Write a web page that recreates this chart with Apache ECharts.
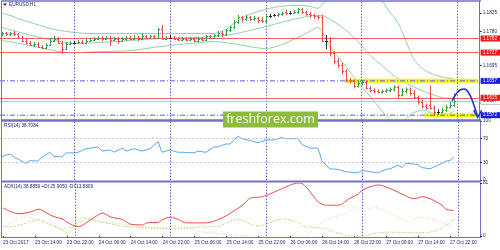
<!DOCTYPE html>
<html><head><meta charset="utf-8">
<script src="https://cdn.jsdelivr.net/npm/echarts@6/dist/echarts.min.js"></script>
<style>html,body{margin:0;padding:0;background:#fff}#c{width:500px;height:250px}</style>
</head><body><div id="c"></div>
<script>
// ---------- DATA (EURUSD H1, 23-27 Oct 2017) ----------
const symbolTitle = 'EURUSD,H1';
const rsiTitle = 'RSI(14) 38.7084';
const adxTitle = 'ADX(14) 38.8859 +DI 25.9050 -DI 13.8309';

const opens = [1.17720,1.17745,1.17720,1.17745,1.17720,1.17645,1.17570,1.17520,1.17470,1.17495,
1.17420,1.17395,1.17470,1.17570,1.17620,1.17520,1.17370,1.17495,1.17520,1.17520,
1.17545,1.17520,1.17570,1.17595,1.17620,1.17645,1.17620,1.17645,1.17595,1.17620,
1.17570,1.17620,1.17645,1.17620,1.17645,1.17620,1.17670,1.17645,1.17670,1.17645,
1.17845,1.17620,1.17645,1.17645,1.17620,1.17595,1.17620,1.17595,1.17620,1.17570,
1.17620,1.17595,1.17670,1.17645,1.17695,1.17745,1.17720,1.17820,1.17895,1.18020,
1.18145,1.18095,1.18145,1.18095,1.18120,1.18070,1.18045,1.18170,1.18195,1.18195,
1.18220,1.18270,1.18245,1.18245,1.18270,1.18345,1.18270,1.18220,1.18195,1.18170,
1.18145,1.17570,1.17570,1.17270,1.17070,1.16970,1.16820,1.16595,1.16570,1.16445,
1.16520,1.16545,1.16395,1.16345,1.16320,1.16295,1.16320,1.16345,1.16370,1.16420,
1.16220,1.16320,1.16370,1.16270,1.16170,1.16045,1.15945,1.15970,1.15895,1.15795,
1.15795,1.15845,1.15920,1.15970];
const closes = [1.17745,1.17720,1.17745,1.17720,1.17645,1.17570,1.17520,1.17470,1.17495,1.17420,
1.17395,1.17470,1.17570,1.17620,1.17520,1.17370,1.17495,1.17520,1.17520,1.17545,
1.17520,1.17570,1.17595,1.17620,1.17645,1.17620,1.17645,1.17595,1.17620,1.17570,
1.17620,1.17645,1.17620,1.17645,1.17620,1.17670,1.17645,1.17670,1.17645,1.17845,
1.17620,1.17645,1.17645,1.17620,1.17595,1.17620,1.17595,1.17620,1.17570,1.17620,
1.17595,1.17670,1.17645,1.17695,1.17745,1.17720,1.17820,1.17895,1.18020,1.18145,
1.18095,1.18145,1.18095,1.18120,1.18070,1.18045,1.18170,1.18170,1.18195,1.18220,
1.18245,1.18245,1.18245,1.18270,1.18345,1.18270,1.18220,1.18195,1.18170,1.18145,
1.17570,1.17570,1.17270,1.17070,1.16970,1.16820,1.16595,1.16570,1.16445,1.16520,
1.16545,1.16395,1.16345,1.16320,1.16295,1.16320,1.16345,1.16370,1.16420,1.16220,
1.16320,1.16370,1.16270,1.16170,1.16045,1.15945,1.15895,1.15895,1.15795,1.15795,
1.15845,1.15920,1.15970,1.16070];
const lows = [1.17695,1.17695,1.17695,1.17695,1.17620,1.17545,1.17495,1.17445,1.17420,1.17395,
1.17370,1.17370,1.17445,1.17545,1.17495,1.17245,1.17345,1.17470,1.17495,1.17495,
1.17495,1.17495,1.17545,1.17570,1.17595,1.17570,1.17595,1.17445,1.17570,1.17495,
1.17545,1.17570,1.17595,1.17595,1.17570,1.17595,1.17620,1.17620,1.17620,1.17620,
1.17620,1.17595,1.17620,1.17595,1.17570,1.17570,1.17570,1.17570,1.17545,1.17545,
1.17570,1.17570,1.17620,1.17620,1.17670,1.17670,1.17695,1.17795,1.17870,1.17995,
1.18045,1.18070,1.18070,1.18070,1.18020,1.18020,1.18020,1.18145,1.18170,1.18170,
1.18195,1.18220,1.18220,1.18245,1.18245,1.18245,1.18195,1.18145,1.18120,1.18095,
1.17545,1.17370,1.17195,1.16995,1.16895,1.16745,1.16545,1.16520,1.16395,1.16420,
1.16470,1.16370,1.16295,1.16270,1.16270,1.16270,1.16295,1.16295,1.16320,1.16145,
1.16195,1.16270,1.16220,1.16145,1.15995,1.15895,1.15870,1.15870,1.15720,1.15745,
1.15770,1.15820,1.15895,1.15945];
const highs = [1.17770,1.17770,1.17770,1.17795,1.17745,1.17670,1.17595,1.17545,1.17520,1.17520,
1.17445,1.17495,1.17620,1.17670,1.17645,1.17545,1.17520,1.17545,1.17545,1.17570,
1.17570,1.17595,1.17620,1.17645,1.17670,1.17670,1.17670,1.17670,1.17645,1.17645,
1.17645,1.17670,1.17670,1.17695,1.17670,1.17745,1.17695,1.17695,1.17695,1.17870,
1.17945,1.17670,1.17695,1.17670,1.17645,1.17645,1.17645,1.17645,1.17645,1.17645,
1.17645,1.17695,1.17695,1.17720,1.17795,1.17795,1.17845,1.17920,1.18070,1.18195,
1.18170,1.18195,1.18170,1.18170,1.18145,1.18145,1.18195,1.18220,1.18220,1.18245,
1.18270,1.18320,1.18295,1.18320,1.18370,1.18370,1.18295,1.18270,1.18220,1.18195,
1.18195,1.17695,1.17645,1.17295,1.17120,1.16995,1.16845,1.16620,1.16595,1.16570,
1.16570,1.16570,1.16420,1.16370,1.16345,1.16345,1.16370,1.16395,1.16445,1.16445,
1.16370,1.16395,1.16395,1.16320,1.16195,1.16095,1.15995,1.16445,1.15945,1.15845,
1.15895,1.15970,1.16045,1.16245];

// Bollinger bands: [bar index, price]
const bbUpper = [[0,1.18245],[2,1.18195],[4.5,1.18095],[7,1.1802],[9.5,1.17945],[12,1.1787],[14.5,1.1782],[18,1.1777],[22,1.17745],[30,1.17745],[40,1.17745],[50,1.17745],[53,1.17745],[56,1.17845],[58,1.17995],[60,1.1812],[62,1.1822],[66,1.18345],[70,1.1842],[74,1.18445],[77,1.1842],[79,1.1837],[80,1.18445],[81,1.1857],[82,1.18695],[84,1.18945],[88,1.1912],[92,1.18945],[94,1.18695],[95,1.1857],[97,1.1827],[99,1.1802],[101,1.1757],[103,1.1712],[105,1.16895],[107,1.1677],[110,1.1667],[113,1.1662]];
const bbMiddle = [[0,1.17895],[4.5,1.1777],[9.5,1.17645],[14.5,1.17545],[18,1.17495],[24.5,1.1752],[32,1.1757],[39.5,1.1762],[49.5,1.17645],[53,1.1767],[57.5,1.1772],[62,1.1782],[66,1.1792],[70,1.1802],[74,1.1812],[79,1.18195],[80,1.18195],[82,1.18095],[84.5,1.17945],[87,1.17745],[89.5,1.17495],[92.75,1.17145],[95.75,1.16895],[98.75,1.16645],[102,1.1647],[105.25,1.1632],[108,1.1622],[111,1.16145],[113,1.16145]];
const bbLower = [[0,1.1757],[4.5,1.17495],[9.5,1.17395],[14.5,1.17295],[18,1.1727],[24.5,1.17295],[32,1.1732],[39.5,1.1742],[49.5,1.1752],[53,1.17545],[57.5,1.17495],[62,1.1742],[66,1.1737],[70,1.1747],[74,1.17645],[77,1.17795],[79,1.17895],[80,1.1782],[81,1.1762],[82,1.1742],[84.5,1.1712],[86.25,1.16895],[88.25,1.16645],[90.25,1.16395],[92.5,1.16145],[94.5,1.15895],[97,1.1562],[99.5,1.15545],[102.75,1.1577],[105.25,1.15845],[107.75,1.1577],[111.25,1.15745],[113,1.1582]];

// RSI(14): [bar index, value]
const rsiPoints = [[0,40],[2,44],[3,39],[6,28],[7,33],[9,32],[10,39],[12,47],[13,40],[15,39],[16,46],[18,46],[19,47],[21,53],[24,56],[25,49],[27,51],[28,47],[30,54],[31,49],[33,53],[35,49],[37,53],[39,65],[40,47],[42,51],[44,47],[45,47],[48,46],[49,49],[51,47],[53,56],[54,56],[56,61],[57,61],[59,74],[60,70],[62,67],[64,63],[66,68],[68,68],[70,72],[71,70],[74,70],[75,60],[77,54],[79,54],[80,32],[82,19],[84,18],[86,14],[89,12],[90,16],[92,14],[94,12],[96,18],[97,19],[99,25],[100,21],[101,28],[102,28],[104,26],[105,21],[107,19],[109,25],[110,28],[111,32],[112,33],[113,38.7]];
// ADX(14), +DI, -DI: [bar index, value]
const adxPoints = [[0,43],[2,37],[4,34],[7,37],[9,41],[11,35],[13,29],[15,26],[16,21],[19,14],[21,21],[23,29],[25,35],[27,29],[30,25],[32,18],[35,17],[36,20],[39,21],[40,25],[42,29],[44,25],[46,20],[50,20],[52,21],[55,28],[57,35],[60,47],[62,58],[65,60],[69,70],[72,78],[74,81],[75,80],[77,67],[79,52],[81,47],[84,47],[87,58],[89,64],[90,70],[94,78],[96,75],[99,67],[101,61],[103,57],[105,60],[107,57],[110,47],[111,41],[113,38.9]];
const plusDiPoints = [[0,15],[2,14],[6,20],[9,25],[11,20],[15,9],[16,5],[20,28],[25,21],[30,15],[37,12],[42,11],[50,14],[54,15],[59,26],[62,18],[64,15],[66,18],[70,26],[74,21],[75,15],[80,12],[83,6],[87,0],[90,0],[94,5],[97,6],[102,5],[106,5],[110,12],[113,25.9]];
const minusDiPoints = [[0,12],[4,28],[6,29],[10,21],[15,12],[18,15],[21,26],[25,21],[32,17],[40,12],[43,15],[50,6],[57,2],[62,0],[75,0],[77,6],[79,17],[82,28],[86,34],[88,44],[90,37],[93,44],[96,37],[99,29],[102,21],[104,29],[108,25],[111,18],[113,13.8]];

// Levels and annotations
const redLevels = [1.1762, 1.1727, 1.1615];
const blueLevels = [1.1657, 1.1572];
const zoneUpper = [[85.75,1.1657],[119,1.1657]];
const zoneLower = [[105.75,1.1572],[119,1.1572]];
const forecastPath = [[112.6,1.1607],[113.6,1.16245],[114.6,1.16345],[115.6,1.1637],[116.6,1.16295],[117.5,1.1612],[118.3,1.15895],[119,1.1568]];

// Axis ticks
const priceTicks = [1.1825, 1.1780, 1.1695];
const rsiTicks = [0, 30, 70, 100];
const adxTicks = [0, 81];
const timeTickIdx = [0,8,16,24,32,40,48,56,64,72,80,88,96,104,112];
const timeTickLabels = ['23 Oct 2017','23 Oct 14:00','23 Oct 22:00','24 Oct 06:00','24 Oct 14:00','24 Oct 22:00','25 Oct 06:00','25 Oct 14:00','25 Oct 22:00','26 Oct 06:00','26 Oct 14:00','26 Oct 22:00','27 Oct 06:00','27 Oct 14:00','27 Oct 22:00'];
const daySeparators = [18, 42, 66, 90, 114];

// ---------- STYLE ----------
const navy = '#24246e';
const frame = '#7272c4';
const blueLine = '#5a5af4';
const FONT = 'Liberation Sans';
const FS = 4.7;
const green = '#33a040', red = '#ef4b4b', doji = '#303030';

const chart = echarts.init(document.getElementById('c'), null, {renderer: 'canvas', width: 500, height: 250});

const bars = opens.map((o, i) => [i, o, closes[i], lows[i], highs[i]]);
const lastPrice = closes[closes.length - 1];

function xValAxis(grid, extra) {
  return Object.assign({type: 'value', gridIndex: grid, min: -0.5, max: 119.5, show: false}, extra || {});
}
function rightAxis(grid, min, max, ticks, fmt) {
  return {
    type: 'value', gridIndex: grid, min, max, position: 'right',
    axisLine: {show: true, onZero: false, lineStyle: {color: frame, width: 1}},
    axisTick: {show: true, customValues: ticks, length: 2, lineStyle: {color: navy}},
    axisLabel: {show: true, customValues: ticks, formatter: fmt, fontSize: FS, fontFamily: FONT, color: navy, margin: 3},
    splitLine: {show: false}
  };
}
function sepSeries(xi, yi, yv) {
  return {
    type: 'line', xAxisIndex: xi, yAxisIndex: yi, data: [[0, yv]], showSymbol: false, silent: true,
    lineStyle: {opacity: 0}, z: 1,
    markLine: {silent: true, symbol: 'none', animation: false, precision: 6, label: {show: false},
      lineStyle: {color: '#6a6ac8', type: [1.5, 1.5], width: 1},
      data: daySeparators.map(v => ({xAxis: v}))}
  };
}
function boxLabel(bg, fg, border) {
  return {show: true, position: 'end', distance: 1, formatter: p => Number(p.value).toFixed(4),
    backgroundColor: bg, color: fg, borderColor: border || bg, borderWidth: border ? 0.5 : 0,
    fontSize: FS, fontFamily: FONT, lineHeight: 5, padding: [0.6, 6, 0.4, 2]};
}

const blueLevelLines = blueLevels.map(v => ({
  type: 'line', xAxisIndex: 0, yAxisIndex: 0, data: [[-0.5, v], [119.5, v]], showSymbol: false, silent: true,
  lineStyle: {color: blueLine, width: 1, type: [5, 2, 1, 2]}, z: 4
}));

const option = {
  animation: false,
  backgroundColor: '#ffffff',
  grid: [
    {left: 0, top: 1, width: 480, height: 119},
    {left: 0, top: 121, width: 480, height: 59},
    {left: 0, top: 183, width: 480, height: 53}
  ],
  xAxis: [
    xValAxis(0),
    xValAxis(1),
    xValAxis(2, {show: true,
      axisLine: {show: false},
      splitLine: {show: false},
      axisTick: {show: true, customValues: timeTickIdx, length: 2, lineStyle: {color: navy}},
      axisLabel: {show: true, customValues: timeTickIdx, align: 'left', margin: 4,
        formatter: v => timeTickLabels[timeTickIdx.indexOf(Math.round(v))] || '',
        fontSize: FS, fontFamily: FONT, color: navy}})
  ],
  yAxis: [
    rightAxis(0, 1.1560, 1.1855, priceTicks, v => v.toFixed(4)),
    rightAxis(1, 0, 100, rsiTicks, v => String(v)),
    rightAxis(2, 0, 81, adxTicks, v => String(v))
  ],
  series: [
    sepSeries(0, 0, 1.17),
    sepSeries(1, 1, 50),
    sepSeries(2, 2, 40),
    // red horizontal levels + current price
    {type: 'line', xAxisIndex: 0, yAxisIndex: 0, data: [[0, 1.17]], showSymbol: false, silent: true,
      lineStyle: {opacity: 0}, z: 2,
      markLine: {silent: true, symbol: 'none', animation: false, precision: 6,
        data: [{yAxis: lastPrice, lineStyle: {color: '#c4c4c4', type: 'solid', width: 1}, label: boxLabel('#ffffff', navy, '#9a9a9a')}]
          .concat(redLevels.map(v => ({yAxis: v, lineStyle: {color: '#f26262', type: 'solid', width: 1}, label: boxLabel('#f01818', '#ffffff')})))}},
    // Bollinger bands
    {type: 'line', xAxisIndex: 0, yAxisIndex: 0, data: bbUpper, smooth: 0.3, showSymbol: false, silent: true,
      lineStyle: {color: '#8fd3a8', width: 1}, z: 2},
    {type: 'line', xAxisIndex: 0, yAxisIndex: 0, data: bbMiddle, smooth: 0.3, showSymbol: false, silent: true,
      lineStyle: {color: '#8fd3a8', width: 1}, z: 2},
    {type: 'line', xAxisIndex: 0, yAxisIndex: 0, data: bbLower, smooth: 0.3, showSymbol: false, silent: true,
      lineStyle: {color: '#8fd3a8', width: 1}, z: 2},
    // yellow highlighted levels
    {type: 'line', xAxisIndex: 0, yAxisIndex: 0, data: zoneUpper, showSymbol: false, silent: true,
      lineStyle: {color: '#f6f600', width: 4}, z: 3},
    {type: 'line', xAxisIndex: 0, yAxisIndex: 0, data: zoneLower, showSymbol: false, silent: true,
      lineStyle: {color: '#f6f600', width: 4}, z: 3}
  ].concat(blueLevelLines).concat([
    // blue level price boxes
    {type: 'line', xAxisIndex: 0, yAxisIndex: 0, data: [[0, 1.17]], showSymbol: false, silent: true,
      lineStyle: {opacity: 0}, z: 4,
      markLine: {silent: true, symbol: 'none', animation: false, precision: 6,
        data: blueLevels.map(v => ({yAxis: v, lineStyle: {color: 'rgba(0,0,0,0)', width: 1}, label: boxLabel('#1c1cd8', '#ffffff')}))}},
    // OHLC bars
    {type: 'custom', xAxisIndex: 0, yAxisIndex: 0, data: bars, z: 5, silent: true,
      encode: {x: 0, y: [1, 2, 3, 4]},
      renderItem: function (params, api) {
        const i = api.value(0), o = api.value(1), c = api.value(2), l = api.value(3), h = api.value(4);
        const col = c > o ? green : (c < o ? red : doji);
        const pH = api.coord([i, h]), pL = api.coord([i, l]), pO = api.coord([i, o]), pC = api.coord([i, c]);
        const xc = Math.round(pH[0]) + 0.5;
        const st = {stroke: col, lineWidth: 1};
        return {type: 'group', children: [
          {type: 'line', shape: {x1: xc, y1: pH[1] - 0.5, x2: xc, y2: pL[1] + 0.5}, style: st},
          {type: 'line', shape: {x1: xc - 1.5, y1: Math.round(pO[1]) + 0.5, x2: xc, y2: Math.round(pO[1]) + 0.5}, style: st},
          {type: 'line', shape: {x1: xc, y1: Math.round(pC[1]) + 0.5, x2: xc + 1.5, y2: Math.round(pC[1]) + 0.5}, style: st}
        ]};
      }},
    // forecast arrow
    {type: 'line', xAxisIndex: 0, yAxisIndex: 0, smooth: 0.5, silent: true, z: 6,
      data: forecastPath.map((p, k) => k === forecastPath.length - 1
        ? {value: p, symbol: 'path://M0,0 L5,8 L10,0', symbolSize: [8, 7], symbolOffset: [0, -3],
           itemStyle: {color: 'rgba(0,0,0,0)', borderColor: '#1f33d0', borderWidth: 1.5}}
        : {value: p, symbol: 'none'}),
      showSymbol: true, lineStyle: {color: '#1f33d0', width: 1.6}},
    // RSI
    {type: 'line', xAxisIndex: 1, yAxisIndex: 1, data: rsiPoints, showSymbol: false, silent: true,
      lineStyle: {color: '#58aaf4', width: 1}, z: 3,
      markLine: {silent: true, symbol: 'none', animation: false, label: {show: false},
        lineStyle: {color: '#c8c8c8', type: [2, 2], width: 1},
        data: [{yAxis: 70}, {yAxis: 30}]}},
    // ADX, +DI, -DI
    {type: 'line', xAxisIndex: 2, yAxisIndex: 2, data: minusDiPoints, smooth: 0.2, showSymbol: false, silent: true,
      lineStyle: {color: '#f3d7a6', width: 1, type: [1.5, 1.5]}, z: 2},
    {type: 'line', xAxisIndex: 2, yAxisIndex: 2, data: plusDiPoints, smooth: 0.2, showSymbol: false, silent: true,
      lineStyle: {color: '#b4d46c', width: 1, type: [1.5, 1.5]}, z: 2},
    {type: 'line', xAxisIndex: 2, yAxisIndex: 2, data: adxPoints, smooth: 0.3, showSymbol: false, silent: true,
      lineStyle: {color: '#ee4a4a', width: 1}, z: 3}
  ]),
  graphic: [
    // frame
    {type: 'line', z: 100, silent: true, shape: {x1: 1, y1: 1, x2: 481, y2: 1}, style: {stroke: frame, lineWidth: 1.5}},
    {type: 'line', z: 100, silent: true, shape: {x1: 1.5, y1: 1, x2: 1.5, y2: 237}, style: {stroke: frame, lineWidth: 1}},
    {type: 'line', z: 100, silent: true, shape: {x1: 1, y1: 120.5, x2: 481, y2: 120.5}, style: {stroke: frame, lineWidth: 2.5}},
    {type: 'line', z: 100, silent: true, shape: {x1: 1, y1: 181.5, x2: 481, y2: 181.5}, style: {stroke: frame, lineWidth: 2}},
    {type: 'line', z: 100, silent: true, shape: {x1: 1, y1: 237.5, x2: 481, y2: 237.5}, style: {stroke: frame, lineWidth: 1}},
    // titles
    {type: 'polygon', z: 100, silent: true, shape: {points: [[3, 3.5], [7, 3.5], [5, 6]]}, style: {fill: navy}},
    {type: 'text', z: 100, silent: true, style: {text: symbolTitle, x: 9, y: 5, fill: navy, fontSize: FS, fontFamily: FONT, textVerticalAlign: 'middle'}},
    {type: 'text', z: 100, silent: true, style: {text: rsiTitle, x: 4, y: 125.5, fill: navy, fontSize: FS, fontFamily: FONT, textVerticalAlign: 'middle'}},
    {type: 'text', z: 100, silent: true, style: {text: adxTitle, x: 4, y: 186.5, fill: navy, fontSize: FS, fontFamily: FONT, textVerticalAlign: 'middle'}},
    // watermark
    {type: 'rect', z: 110, silent: true, shape: {x: 223, y: 111.5, width: 95, height: 16}, style: {fill: '#8dbb3c'}},
    {type: 'text', z: 111, silent: true, style: {text: 'freshforex.com', x: 270.5, y: 119.5, fill: '#ffffff', fontSize: 12.5, fontFamily: 'Open Sans', textAlign: 'center', textVerticalAlign: 'middle'}}
  ]
};
chart.setOption(option);
</script>
</body></html>
